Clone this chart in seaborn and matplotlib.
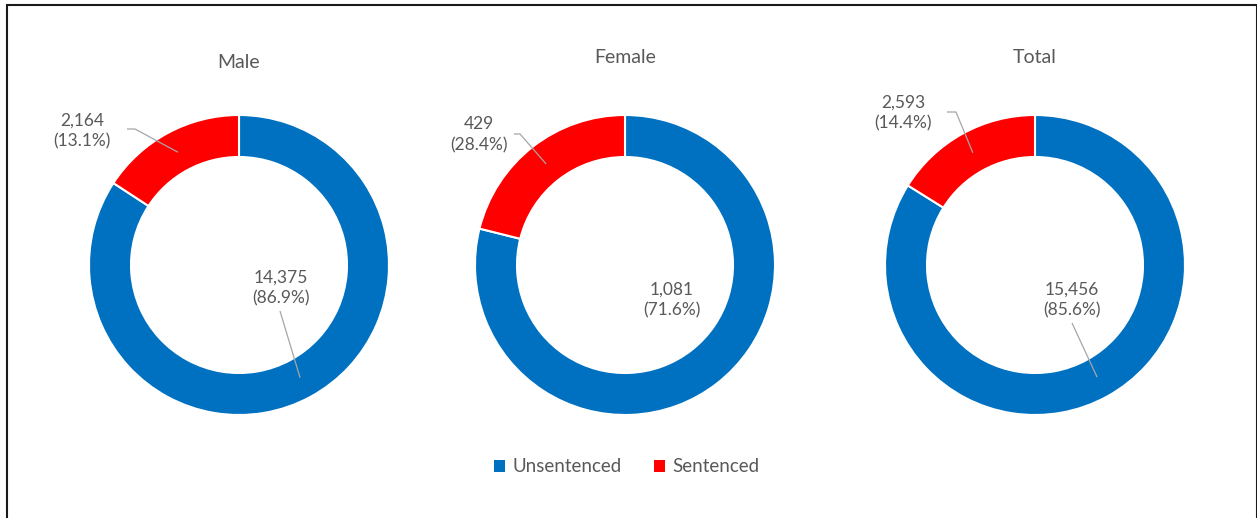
import matplotlib
matplotlib.use('Agg')
import matplotlib.pyplot as plt
import seaborn as sns
import numpy as np
from matplotlib.patches import Rectangle, Patch

# ---------------- data ----------------
groups = ['Male', 'Female', 'Total']
series = ['Unsentenced', 'Sentenced']
# counts and percentages as printed in the labels
unsentenced = [14375, 1081, 15456]
sentenced = [2164, 429, 2593]
unsentenced_pct = [86.9, 71.6, 85.6]
sentenced_pct = [13.1, 28.4, 14.4]
# ring shares as actually drawn in the picture (percent of the ring)
unsentenced_drawn = [84.2, 78.9, 83.9]
sentenced_drawn = [15.8, 21.1, 16.1]

# ---------------- style ----------------
sns.set_theme(style='white')
plt.rcParams['font.family'] = ['Lato', 'DejaVu Sans']
colors = sns.color_palette(['#0070C0', '#FF0000'])
TXT = '#595959'
LEAD = '#A6A6A6'

W, H = 1257, 518
fig = plt.figure(figsize=(W / 100, H / 100), dpi=100)
fig.patch.set_facecolor('white')

# layout (pixels)
centers_x = [239, 625, 1035]
cy = 265
R = 150.0
half = 180.0
title_baseline = [68, 63, 63]
# label centres relative to donut centre (dx right, dy up)
lbl_pos = {
    'Sentenced': [(-157, 134), (-146, 130), (-132, 152)],
    'Unsentenced': [(42, -23), (47, -35), (37, -35)],
}
# leader-line start point(s) relative to donut centre
lead_start = {
    'Sentenced': [[(-112, 136), (-104, 136)], [(-111, 131), (-105, 131)], [(-88, 153), (-79, 153)]],
    'Unsentenced': [[(41, -46)], None, [(37, -58)]],
}
lead_r = 0.855

for i, g in enumerate(groups):
    cx = centers_x[i]
    ax = fig.add_axes([(cx - half) / W, (H - cy - half) / H, 2 * half / W, 2 * half / H])
    drawn = [unsentenced_drawn[i], sentenced_drawn[i]]
    counts = [unsentenced[i], sentenced[i]]
    pcts = [unsentenced_pct[i], sentenced_pct[i]]
    ax.pie(drawn, colors=colors, startangle=90, counterclock=False, radius=1.0,
           wedgeprops=dict(width=0.28, edgecolor='white', linewidth=1.5))
    ax.set_xlim(-half / R, half / R)
    ax.set_ylim(-half / R, half / R)
    ax.set_aspect('equal')
    ax.axis('off')

    total = sum(drawn)
    cum = 0.0
    for s, d, n, p in zip(series, drawn, counts, pcts):
        a0 = 90 - 360 * cum / total
        a1 = 90 - 360 * (cum + d) / total
        cum += d
        dx, dy = lbl_pos[s][i]
        ax.text(dx / R, dy / R, f"{n:,}\n({p:.1f}%)", ha='center', va='center',
                fontsize=12.5, color=TXT, linespacing=1.42)
        st = lead_start[s][i]
        if st is not None:
            ang = np.deg2rad((a0 + a1) / 2)
            xs = [q[0] / R for q in st] + [lead_r * np.cos(ang)]
            ys = [q[1] / R for q in st] + [lead_r * np.sin(ang)]
            ax.plot(xs, ys, color=LEAD, lw=0.9, solid_capstyle='butt')

    fig.text(cx / W, 1 - title_baseline[i] / H, g, ha='center', va='baseline',
             fontsize=14, color=TXT)

handles = [Patch(facecolor=c, edgecolor='none') for c in colors]
fig.legend(handles=handles, labels=series, loc='center', bbox_to_anchor=(627 / W, 1 - 467 / H),
           ncol=2, frameon=False, fontsize=13.5, handlelength=0.6, handleheight=0.6,
           handletextpad=0.4, columnspacing=1.7, labelcolor=TXT)

rect = Rectangle((7 / W, -0.1), (1256.5 - 7) / W, (H - 5) / H + 0.1, transform=fig.transFigure,
                 fill=False, edgecolor='#1a1a1a', lw=1.5, clip_on=False)
fig.patches.append(rect)

fig.savefig('out.png', dpi=100, facecolor='white')
